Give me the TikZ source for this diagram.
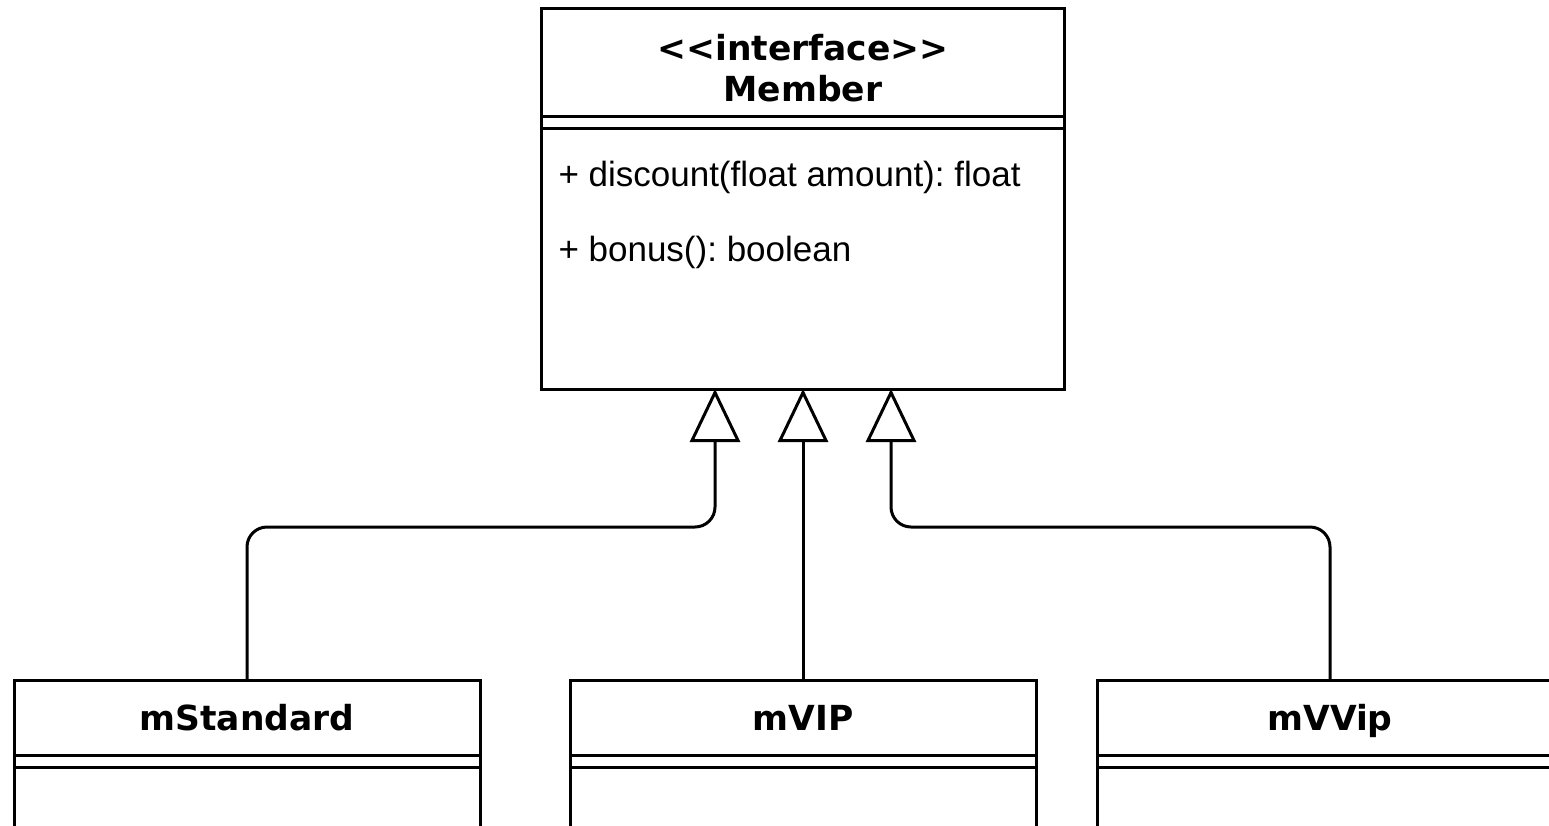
\documentclass[tikz,border=0pt]{standalone}
\usepackage{fontspec}
\setmainfont{Liberation Sans}
\newfontfamily\titlefont{DejaVu Sans}
\usetikzlibrary{arrows.meta}
\usetikzlibrary{positioning}
\frenchspacing

\begin{document}
\begin{tikzpicture}
	[x=1pt, y=-1pt, line width=3pt,
	classhead/.style={draw, outer sep=0pt, inner sep=0pt, align=center, text depth=0pt,
		font=\titlefont\bfseries\fontsize{34.5}{41}\selectfont},
	classband/.style={draw, outer sep=0pt, inner sep=0pt, minimum height=12pt},
	classbody/.style={draw, outer sep=0pt, inner sep=0pt},
	attr/.style={anchor=west, inner sep=0pt, font=\fontsize{35}{42}\selectfont},
	realizes/.style={rounded corners=20pt, -{Triangle[open, length=53pt, width=50pt]}}]
	\useasboundingbox (0,0) rectangle (1549,825);
	\clip (0,0) rectangle (1549,825);

	% interface
	\node[classhead, minimum width=523pt, minimum height=108pt] (member) at (803,62) {};
	\node[classhead, draw=none, yshift=-6pt] (membertitle) at (member.center)
		{{<}{<}interface{>}{>}\\Member};
	\node[classband, minimum width=523pt, below=0pt of member] (memberband) {};
	\node[classbody, minimum width=523pt, minimum height=261pt, below=0pt of memberband] (memberbody) {};
	\node[attr] (discount) at (557,177) {+ discount(float amount): float};
	\node[attr] (bonus) at (557,252) {+ bonus(): boolean};

	% classes
	\node[classhead, minimum width=466pt, minimum height=75pt] (std) at (247,717.5) {mStandard};
	\node[classband, minimum width=466pt, below=0pt of std] (stdband) {};
	\node[classbody, minimum width=466pt, minimum height=200pt, below=0pt of stdband] (stdbody) {};

	\node[classhead, minimum width=466pt, minimum height=75pt] (vip) at (803,717.5) {mVIP};
	\node[classband, minimum width=466pt, below=0pt of vip] (vipband) {};
	\node[classbody, minimum width=466pt, minimum height=200pt, below=0pt of vipband] (vipbody) {};

	\node[classhead, minimum width=466pt, minimum height=75pt] (vvip) at (1330,717.5) {mVVip};
	\node[classband, minimum width=466pt, below=0pt of vvip] (vvipband) {};
	\node[classbody, minimum width=466pt, minimum height=200pt, below=0pt of vvipband] (vvipbody) {};

	% realization
	\coordinate (tipstd) at ([xshift=-88pt]memberbody.south);
	\coordinate (tipvvip) at ([xshift=88pt]memberbody.south);
	\draw[realizes] (std.north) -- (std.north |- 0,527) -- (tipstd |- 0,527) -- (tipstd);
	\draw[realizes] (vip.north) -- (memberbody.south);
	\draw[realizes] (vvip.north) -- (vvip.north |- 0,527) -- (tipvvip |- 0,527) -- (tipvvip);
\end{tikzpicture}
\end{document}
